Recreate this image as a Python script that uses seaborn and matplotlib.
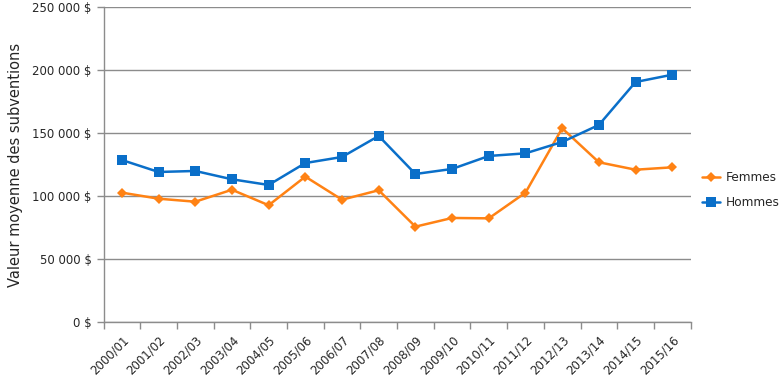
import matplotlib
matplotlib.use("Agg")
import matplotlib.pyplot as plt
import seaborn as sns
import pandas as pd
from matplotlib.ticker import FixedLocator, FuncFormatter

categories = ["2000/01", "2001/02", "2002/03", "2003/04", "2004/05", "2005/06",
              "2006/07", "2007/08", "2008/09", "2009/10", "2010/11", "2011/12",
              "2012/13", "2013/14", "2014/15", "2015/16"]
femmes = [102900, 98100, 95700, 105200, 92900, 115600, 97300, 104800,
          75900, 82800, 82500, 102900, 154000, 127000, 121100, 123000]
hommes = [128800, 119300, 120100, 113500, 109000, 126400, 131200, 147900,
          117700, 121700, 132000, 134100, 143100, 156600, 190700, 196500]
y_ticks = [0, 50000, 100000, 150000, 200000, 250000]
y_label = "Valeur moyenne des subventions"

df = pd.DataFrame({
    "Année": categories * 2,
    "Valeur": femmes + hommes,
    "Sexe": ["Femmes"] * len(categories) + ["Hommes"] * len(categories),
})

sns.set_style("white")
plt.rcParams['font.family'] = ['DejaVu Sans']

fig = plt.figure(figsize=(7.83, 3.84), dpi=100)
ax = fig.add_axes([0.1322, 0.1607, 0.882 - 0.1322, 0.981 - 0.1607])

palette = {"Femmes": "#FF8214", "Hommes": "#0A6FC9"}
markers = {"Femmes": "D", "Hommes": "s"}
sns.lineplot(data=df, x="Année", y="Valeur", hue="Sexe", style="Sexe",
             palette=palette, markers=markers, dashes=False, ax=ax,
             linewidth=1.8, markersize=7, markeredgewidth=0, sort=False)
for ln in ax.lines:
    if ln.get_marker() == "D":
        ln.set_markersize(5.5)

ax.set_xlim(-0.5, len(categories) - 0.5)
ax.set_ylim(0, 250000)
ax.yaxis.set_major_locator(FixedLocator(y_ticks))
ax.yaxis.set_major_formatter(FuncFormatter(
    lambda v, p: f"{int(v):,}".replace(",", " ") + " $"))
ax.grid(axis="y", color="#8C8C8C", linewidth=1)
ax.set_axisbelow(True)

ax.set_xticks(range(len(categories)))
ax.set_xticklabels(categories, rotation=45, ha="right", rotation_mode="anchor",
                   fontsize=8.5)
ax.set_xticks([i - 0.5 for i in range(len(categories) + 1)], minor=True)
ax.tick_params(axis="x", which="major", length=0, pad=8)
ax.tick_params(axis="x", which="minor", length=5, color="#8C8C8C", width=1,
               direction="out", bottom=True)
ax.tick_params(axis="y", which="major", length=5, color="#8C8C8C", width=1,
               direction="out", left=True, labelsize=8.5)

for s in ["top", "right"]:
    ax.spines[s].set_visible(False)
for s in ["left", "bottom"]:
    ax.spines[s].set_color("#8C8C8C")
    ax.spines[s].set_linewidth(1)

ax.set_xlabel("")
ax.set_ylabel(y_label, fontsize=10.5, labelpad=7)

leg = ax.legend(loc="center left", bbox_to_anchor=(0.897, 0.505),
                bbox_transform=fig.transFigure, frameon=False,
                fontsize=8.7, handlelength=1.5, handletextpad=0.4,
                labelspacing=1.0, borderpad=0, borderaxespad=0)
for h in leg.get_lines():
    if h.get_marker() == "D":
        h.set_markersize(5.5)

fig.savefig("out.png", dpi=100)
